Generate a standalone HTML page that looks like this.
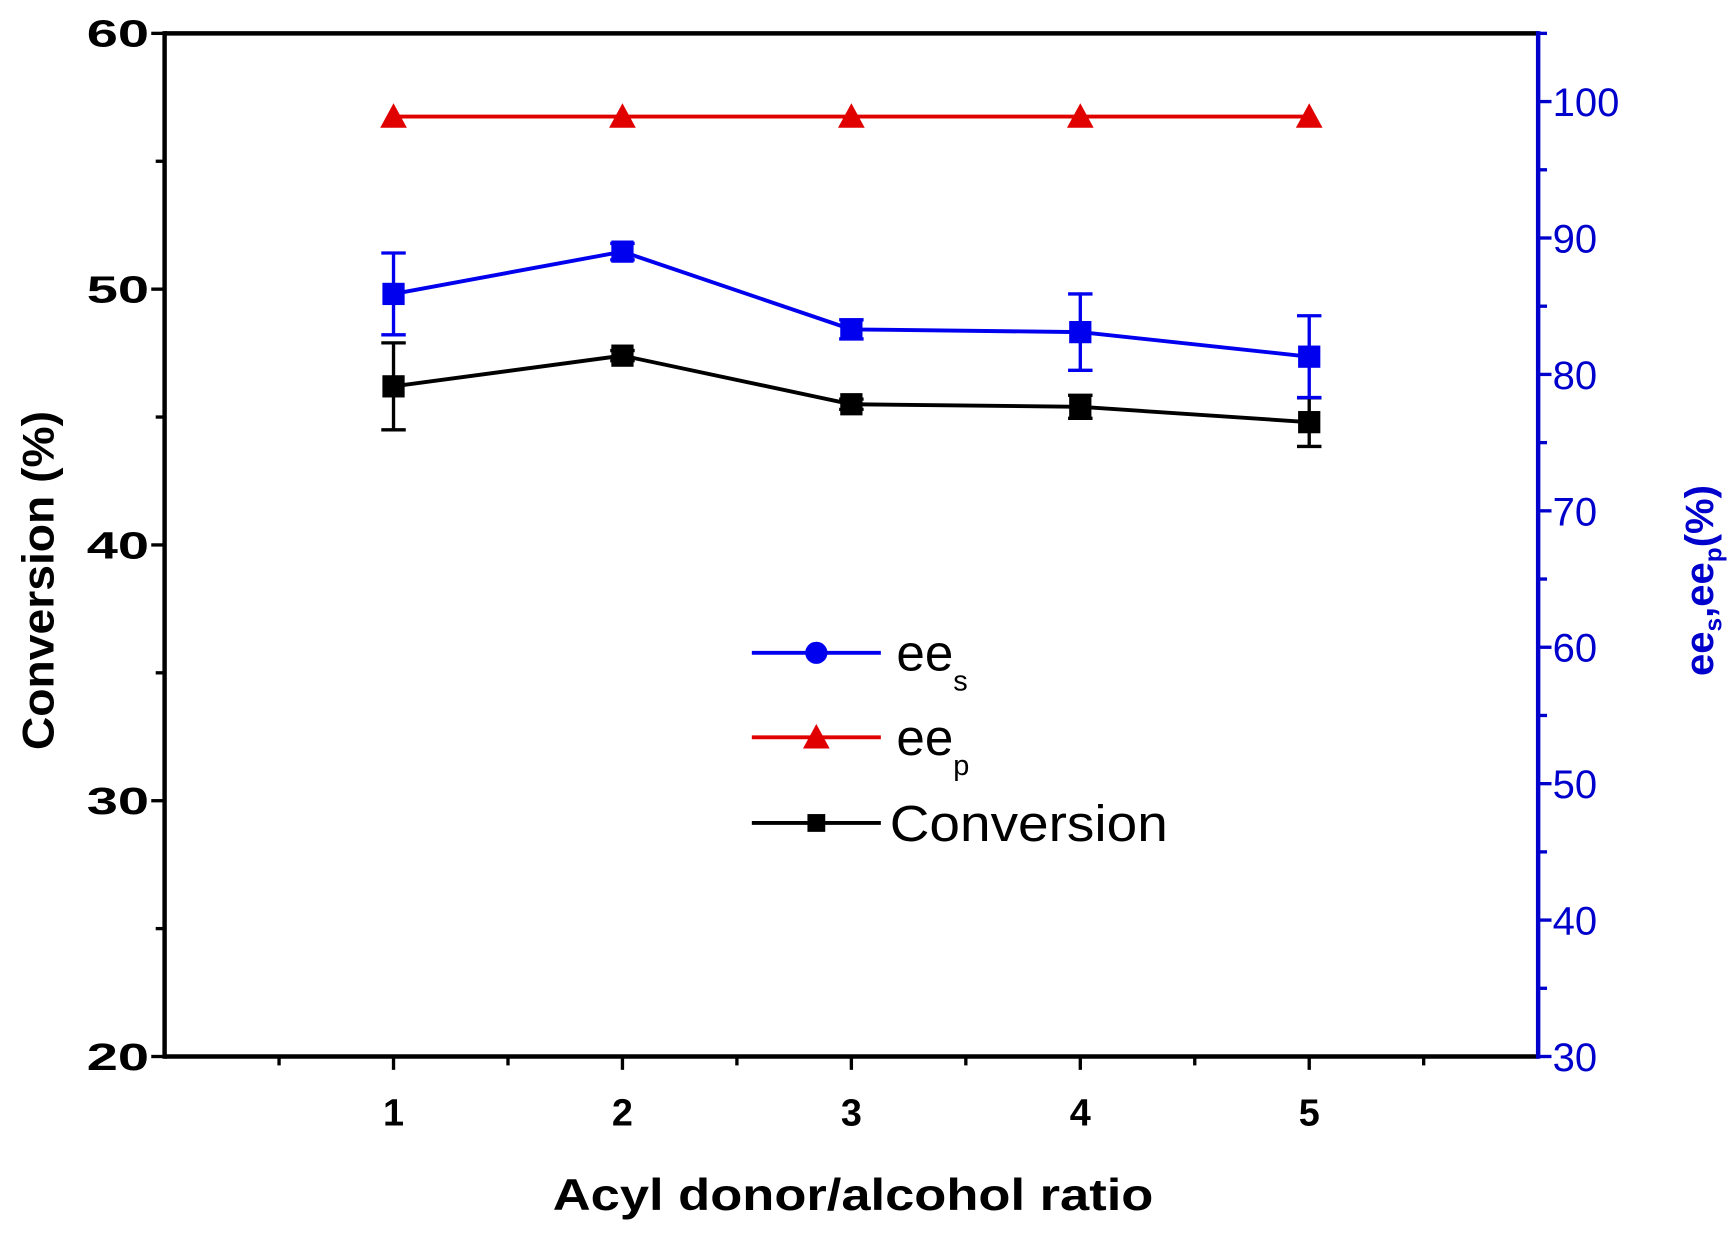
<!DOCTYPE html>
<html><head><meta charset="utf-8"><style>
html,body{margin:0;padding:0;background:#fff;}
svg{display:block;}
text{font-family:"Liberation Sans",Arial,sans-serif;}
</style></head><body>
<svg id="chart" width="1735" height="1236" viewBox="0 0 1560 1111.4" preserveAspectRatio="none" xmlns="http://www.w3.org/2000/svg">
<g id="axes"></g>
<g id="marks"></g>
<g id="legend"></g>
</svg>
<script>
const categories=[1,2,3,4,5];
const conversion=[46.2,47.4,45.5,45.4,44.8];
const conversionErr=[1.7,0.2,0.2,0.45,0.95];
const ees=[85.9,89.0,83.3,83.1,81.3];
const eesErr=[3.0,0.6,0.7,2.8,3.0];
const eep=[98.9,98.9,98.9,98.9,98.9];
const leftTicks=[20,30,40,50,60];
const rightTicks=[30,40,50,60,70,80,90,100];
const xTicks=[1,2,3,4,5];

const L=148,R=1383,T=30,B=950;
const NS="http://www.w3.org/2000/svg";
const xs=v=>L+(v-0)/(6-0)*(R-L);
const yl=v=>B-(v-20)/(60-20)*(B-T);
const yr=v=>B-(v-30)/(105-30)*(B-T);
function el(tag,attrs,parent,txt){const e=document.createElementNS(NS,tag);for(const k in attrs)e.setAttribute(k,attrs[k]);if(txt!==undefined)e.textContent=txt;parent.appendChild(e);return e;}
const ax=document.getElementById('axes'),mk=document.getElementById('marks'),lg=document.getElementById('legend');

let e;
e=el('line',{x1:L,y1:T,x2:R,y2:T,stroke:'#000','stroke-width':4},ax);

e=el('line',{x1:L,y1:B,x2:R,y2:B,stroke:'#000','stroke-width':4},ax);

e=el('line',{x1:L,y1:T-2,x2:L,y2:B+2,stroke:'#000','stroke-width':4},ax);

e=el('line',{x1:R,y1:T-2,x2:R,y2:B+2,stroke:'#0000cc','stroke-width':4},ax);


for(let v=0.5;v<6;v+=0.5){const maj=Math.abs(v-Math.round(v))<1e-6;
 e=el('line',{x1:xs(v),y1:B,x2:xs(v),y2:B+(maj?12:8),stroke:'#000','stroke-width':3},ax);
 }
xTicks.forEach(v=>{e=el('text',{x:xs(v),y:1012,'text-anchor':'middle','font-size':34,'font-weight':'bold'},ax,String(v));
 });
for(let v=20;v<=60;v+=5){const maj=v%10===0;
 e=el('line',{x1:L,y1:yl(v),x2:L-(maj?12:8),y2:yl(v),stroke:'#000','stroke-width':3},ax);
 }
leftTicks.forEach(v=>{e=el('text',{x:134,y:yl(v)+12,'text-anchor':'end','font-size':34,'font-weight':'bold',textLength:56,lengthAdjust:'spacingAndGlyphs'},ax,String(v));
 });
for(let v=30;v<=105;v+=5){const maj=v%10===0;
 e=el('line',{x1:R,y1:yr(v),x2:R+(maj?12:8),y2:yr(v),stroke:'#0000cc','stroke-width':3},ax);
 }
rightTicks.forEach(v=>{e=el('text',{x:1396,y:yr(v)+13,'font-size':36,fill:'#0000cc'},ax,String(v));
 });
e=el('text',{x:767,y:1088,'text-anchor':'middle','font-size':40,'font-weight':'bold',textLength:540,lengthAdjust:'spacingAndGlyphs'},ax,'Acyl donor/alcohol ratio');

e=el('text',{x:0,y:0,'text-anchor':'middle','font-size':40,'font-weight':'bold',transform:'translate(48,522) rotate(-90)',textLength:305,lengthAdjust:'spacingAndGlyphs'},ax,'Conversion (%)');

e=el('text',{x:0,y:0,'text-anchor':'middle','font-size':36,'font-weight':'bold',fill:'#0000cc',transform:'translate(1540,522) rotate(-90)'},ax);

e.innerHTML='ee<tspan font-size="22" dy="8">s</tspan><tspan dy="-8">,ee</tspan><tspan font-size="22" dy="8">p</tspan><tspan dy="-8">(%)</tspan>';

function series(vals,errs,ys,color,name,marker){
 const pts=categories.map((c,i)=>[xs(c),ys(vals[i])]);
 e=el('polyline',{points:pts.map(p=>p.join(',')).join(' '),fill:'none',stroke:color,'stroke-width':3.5},mk);
 
 categories.forEach((c,i)=>{const x=xs(c);
  if(errs){const y1=ys(vals[i]+errs[i]),y2=ys(vals[i]-errs[i]);
   e=el('path',{d:`M${x},${y1}V${y2}M${x-11},${y1}H${x+11}M${x-11},${y2}H${x+11}`,stroke:color,'stroke-width':3,fill:'none'},mk);
   }
  const y=ys(vals[i]);
  if(marker==='tri') e=el('polygon',{points:`${x},${y-12} ${x-12},${y+10} ${x+12},${y+10}`,fill:color},mk);
  else e=el('rect',{x:x-10,y:y-10,width:20,height:20,fill:color},mk);
  
 });
}
series(conversion,conversionErr,yl,'#000','conversion','sq');
series(ees,eesErr,yr,'#0000ee','ees','sq');
series(eep,null,yr,'#e00000','eep','tri');

function leg(y,color,name,marker,label,sub,w){
 e=el('line',{x1:676,y1:y,x2:792,y2:y,stroke:color,'stroke-width':3.5},lg);
 
 if(marker==='circ') e=el('circle',{cx:734,cy:y,r:10,fill:color},lg);
 else if(marker==='tri') e=el('polygon',{points:`734,${y-12} 722,${y+10} 746,${y+10}`,fill:color},lg);
 else e=el('rect',{x:726,y:y-8,width:16,height:16,fill:color},lg);
 
 const a={x:label==='ee'?806:800,y:y+16,'font-size':46};
 if(w){a.textLength=w;a.lengthAdjust='spacingAndGlyphs';}
 e=el('text',a,lg);
 
 e.innerHTML=label+(sub?`<tspan font-size="26" dy="18">${sub}</tspan>`:'');
}
leg(587,'#0000ee','ees','circ','ee','s',0);
leg(663,'#e00000','eep','tri','ee','p',0);
leg(740,'#000','conversion','sq','Conversion','',250);
</script>
</body></html>
